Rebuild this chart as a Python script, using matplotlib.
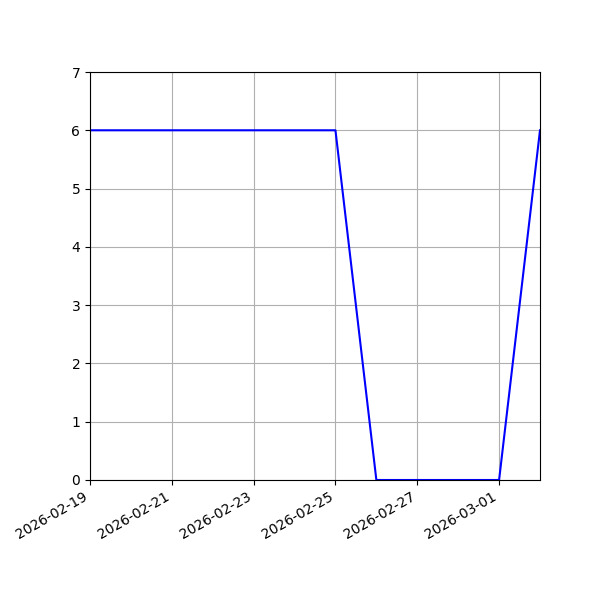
import matplotlib
matplotlib.use('Agg')
import matplotlib.pyplot as plt
import matplotlib.dates as mdates
import pandas as pd

# Datos diarios
fechas = pd.date_range('2026-02-19', '2026-03-02', freq='D')
valores = [6, 6, 6, 6, 6, 6, 6, 0, 0, 0, 0, 6]

fig, ax = plt.subplots(figsize=(6, 6), dpi=100)
ax.plot(fechas, valores, color='blue')
ax.set_xlim(fechas[0], fechas[-1])
ax.set_ylim(0, 7)
ax.set_xticks(fechas[::2])
ax.xaxis.set_major_formatter(mdates.DateFormatter('%Y-%m-%d'))
ax.grid(True)
fig.autofmt_xdate()
fig.subplots_adjust(left=0.15, bottom=0.2)
fig.savefig('out.png')
